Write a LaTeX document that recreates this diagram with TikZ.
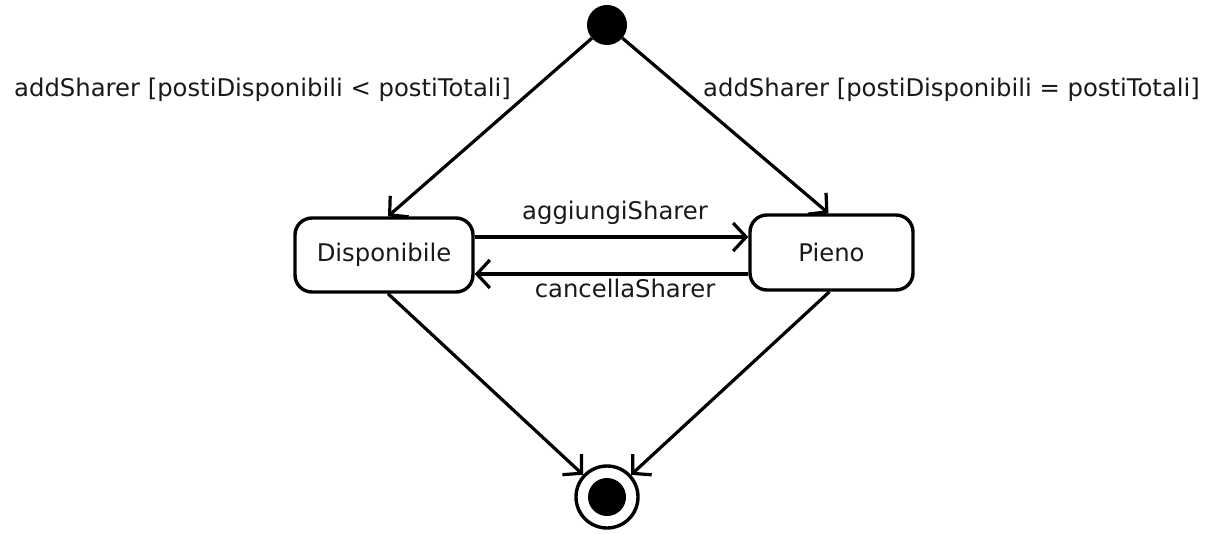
\documentclass[tikz,border=0pt]{standalone}
\usepackage{fontspec}
\setmainfont{DejaVu Sans}
\usetikzlibrary{arrows.meta}
\begin{document}
\begin{tikzpicture}[x=1pt,y=-1pt,
  every node/.style={font=\fontsize{24.3}{29}\selectfont, text=black!90},
  state/.style={draw, line width=3.4pt, rounded corners=17pt, inner sep=0pt},
  trans/.style={line width=3.2pt, -{Straight Barb[length=13pt,width=28pt,line width=3.2pt]}},
  lbl/.style={anchor=base, inner sep=0pt}]
  \useasboundingbox (0,0) rectangle (1209,534);

  % initial pseudo-state
  \node[circle, fill=black, minimum size=40pt, inner sep=0pt] (init) at (607,25) {};
  % final state
  \node[circle, draw, line width=3.4pt, minimum size=62pt, inner sep=0pt] (final) at (607,497) {};
  \node[circle, fill=black, minimum size=38pt, inner sep=0pt] (finalcore) at (607,497) {};

  % states
  \node[state, minimum width=178pt, minimum height=74pt] (disp) at (384,255) {Disponibile};
  \node[state, minimum width=163pt, minimum height=75pt] (pieno) at (831.5,252.5) {Pieno};

  % anchor points for the transitions
  \coordinate (dtop) at ([xshift=4pt]disp.north);
  \coordinate (ptop) at ([xshift=-3pt]pieno.north);
  \coordinate (dbot) at ([xshift=4pt]disp.south);
  \coordinate (pbot) at ([xshift=-2pt]pieno.south);

  % transitions
  \draw[trans] (init) -- (dtop);
  \draw[trans] (init) -- (ptop);
  \draw[trans] (disp.east |- 0,237) -- (pieno.west |- 0,237);
  \draw[trans] (pieno.west |- 0,274) -- (disp.east |- 0,274);
  \draw[trans] (dbot) -- (final);
  \draw[trans] (pbot) -- (final);

  % transition labels
  \node[lbl] (l1) at (262.5,97) {addSharer [postiDisponibili < postiTotali]};
  \node[lbl] (l2) at (951.5,97) {addSharer [postiDisponibili = postiTotali]};
  \node[lbl] (l3) at (615,220) {aggiungiSharer};
  \node[lbl] (l4) at (625,298) {cancellaSharer};
\end{tikzpicture}
\end{document}
